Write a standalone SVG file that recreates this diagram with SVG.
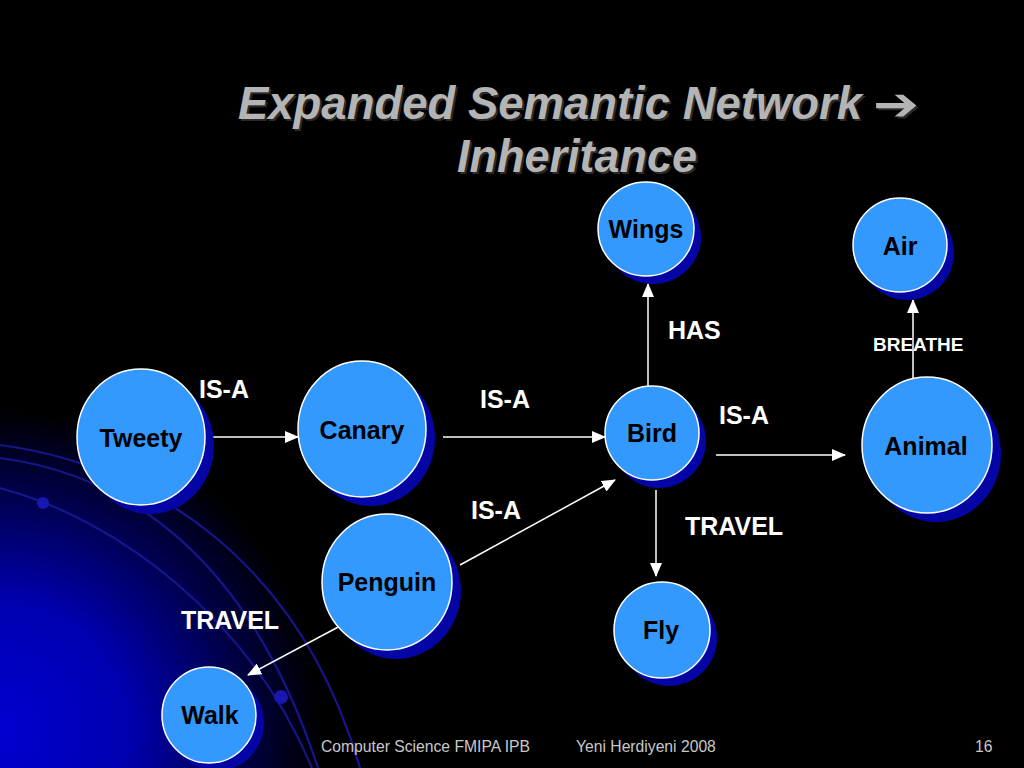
<svg xmlns="http://www.w3.org/2000/svg" width="1024" height="768" viewBox="0 0 1024 768">
<defs>
<radialGradient id="bg" cx="0" cy="730" r="320" gradientUnits="userSpaceOnUse">
<stop offset="0" stop-color="#0000d0"/>
<stop offset="0.4" stop-color="#0000b0"/>
<stop offset="0.75" stop-color="#000048"/>
<stop offset="1" stop-color="#000000"/>
</radialGradient>
<marker id="ah" viewBox="0 0 14 12" refX="13" refY="6" markerWidth="14" markerHeight="12" markerUnits="userSpaceOnUse" orient="auto">
<path d="M0,0 L14,6 L0,12 Z" fill="#ffffff"/>
</marker>
<style>
.shadow{fill:#0505a5}
.node{fill:#3399ff;stroke:#ffffff;stroke-width:1.5}
.nl{font-family:"Liberation Sans",Arial,sans-serif;font-weight:bold;font-size:25px;fill:#000000;text-anchor:middle}
.el{font-family:"Liberation Sans",Arial,sans-serif;font-weight:bold;font-size:25px;fill:#ffffff}
.small{font-size:19px}
.conn{stroke:#ffffff;stroke-width:1.5;fill:none;marker-end:url(#ah)}
.arc{stroke:#15158c;stroke-width:2.2;fill:none}
.foot{font-family:"Liberation Sans",Arial,sans-serif;font-size:15.7px;fill:#c8c8c8}
.title{font-family:"Liberation Sans",Arial,sans-serif;font-weight:bold;font-style:italic;font-size:46px}
.arrowch{font-family:"DejaVu Sans",sans-serif;font-weight:bold;font-size:46px}
</style>
</defs>
<rect width="1024" height="768" fill="#000000"/>
<rect width="1024" height="768" fill="url(#bg)"/>
<g id="background-arcs">
<path class="arc" d="M0,445 C150,465 300,560 360,768"/>
<path class="arc" d="M0,458 C130,475 250,560 318,768"/>
<path class="arc" d="M0,488 C120,520 250,620 312,768"/>
<circle cx="43" cy="503" r="6" fill="#1818b0"/>
<circle cx="281" cy="697" r="7" fill="#1818b0"/>
</g>
<g id="title">
<text class="title" x="240" y="121" fill="#2a2a2a" textLength="624" lengthAdjust="spacingAndGlyphs">Expanded Semantic Network</text>
<text class="title" x="238" y="119" fill="#b4b4b4" textLength="624" lengthAdjust="spacingAndGlyphs">Expanded Semantic Network</text>
<text class="arrowch" x="875" y="122" fill="#2a2a2a" textLength="46" lengthAdjust="spacingAndGlyphs">➔</text>
<text class="arrowch" x="873" y="120" fill="#b4b4b4" textLength="46" lengthAdjust="spacingAndGlyphs">➔</text>
<text class="title" x="459" y="174" fill="#2a2a2a" textLength="240" lengthAdjust="spacingAndGlyphs">Inheritance</text>
<text class="title" x="457" y="172" fill="#b4b4b4" textLength="240" lengthAdjust="spacingAndGlyphs">Inheritance</text>
</g>
<g id="connectors">
<line class="conn" x1="213" y1="437" x2="298" y2="437"/>
<line class="conn" x1="443" y1="437" x2="605" y2="437"/>
<line class="conn" x1="460" y1="565" x2="615" y2="480"/>
<line class="conn" x1="648" y1="386" x2="648" y2="284"/>
<line class="conn" x1="716" y1="455" x2="845" y2="455"/>
<line class="conn" x1="656" y1="490" x2="656" y2="576"/>
<line class="conn" x1="913" y1="378" x2="913" y2="300"/>
<line class="conn" x1="342" y1="625" x2="248" y2="675"/>
<text class="el" x="199" y="398">IS-A</text>
<text class="el" x="480" y="408">IS-A</text>
<text class="el" x="471" y="519">IS-A</text>
<text class="el" x="668" y="339">HAS</text>
<text class="el" x="719" y="424">IS-A</text>
<text class="el" x="685" y="535">TRAVEL</text>
<text class="el small" x="873" y="351">BREATHE</text>
<text class="el" x="181" y="629">TRAVEL</text>
</g>
<g id="node-tweety">
<ellipse class="shadow" cx="150" cy="446" rx="64" ry="68"/>
<ellipse class="node" cx="141" cy="437" rx="64" ry="68"/>
<text class="nl" x="141" y="447">Tweety</text>
</g>
<g id="node-canary">
<ellipse class="shadow" cx="371" cy="438" rx="64" ry="68"/>
<ellipse class="node" cx="362" cy="429" rx="64" ry="68"/>
<text class="nl" x="362" y="439">Canary</text>
</g>
<g id="node-penguin">
<ellipse class="shadow" cx="396" cy="591" rx="65" ry="68"/>
<ellipse class="node" cx="387" cy="582" rx="65" ry="68"/>
<text class="nl" x="387" y="591">Penguin</text>
</g>
<g id="node-bird">
<ellipse class="shadow" cx="659" cy="441" rx="47" ry="47"/>
<ellipse class="node" cx="652" cy="433" rx="47" ry="47"/>
<text class="nl" x="652" y="442">Bird</text>
</g>
<g id="node-wings">
<ellipse class="shadow" cx="653" cy="237" rx="48" ry="47"/>
<ellipse class="node" cx="646" cy="229" rx="48" ry="47"/>
<text class="nl" x="646" y="238">Wings</text>
</g>
<g id="node-air">
<ellipse class="shadow" cx="907" cy="253" rx="47" ry="47"/>
<ellipse class="node" cx="900" cy="245" rx="47" ry="47"/>
<text class="nl" x="900" y="255">Air</text>
</g>
<g id="node-animal">
<ellipse class="shadow" cx="936" cy="454" rx="65" ry="68"/>
<ellipse class="node" cx="927" cy="445" rx="65" ry="68"/>
<text class="nl" x="926" y="455">Animal</text>
</g>
<g id="node-fly">
<ellipse class="shadow" cx="669" cy="638" rx="48" ry="48"/>
<ellipse class="node" cx="662" cy="630" rx="48" ry="48"/>
<text class="nl" x="661" y="639">Fly</text>
</g>
<g id="node-walk">
<ellipse class="shadow" cx="217" cy="723" rx="47" ry="48"/>
<ellipse class="node" cx="209" cy="715" rx="47" ry="48"/>
<text class="nl" x="210" y="724">Walk</text>
</g>
<g id="footer">
<text class="foot" x="321" y="752">Computer Science FMIPA IPB</text>
<text class="foot" x="576" y="752">Yeni Herdiyeni 2008</text>
<text class="foot" x="975" y="752">16</text>
</g>
</svg>
